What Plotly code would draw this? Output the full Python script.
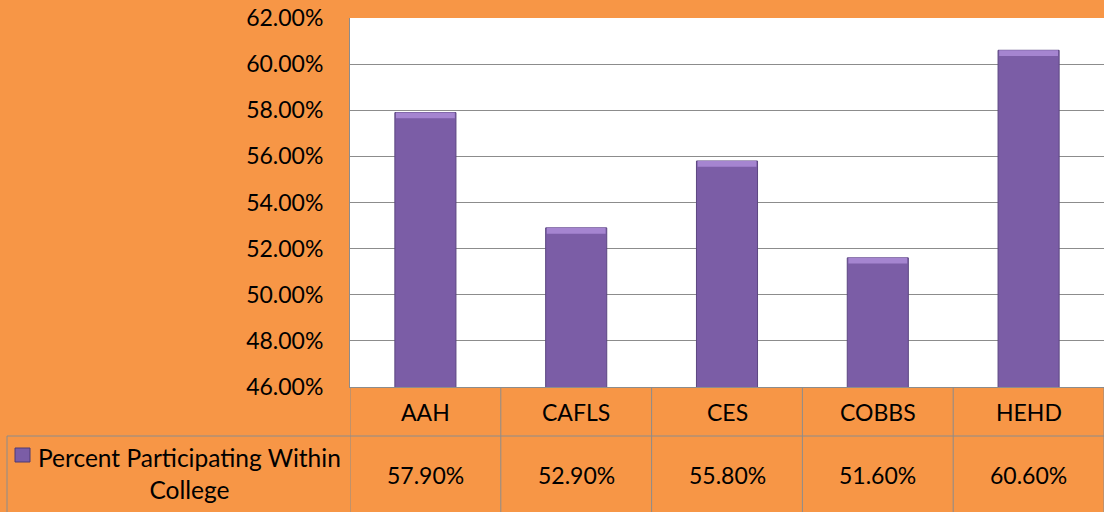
import plotly.graph_objects as go

categories = ["AAH", "CAFLS", "CES", "COBBS", "HEHD"]
values = [0.579, 0.529, 0.558, 0.516, 0.606]
value_labels = ["57.90%", "52.90%", "55.80%", "51.60%", "60.60%"]
series_name = "Percent Participating Within<br>College"
y_ticks = [0.46, 0.48, 0.50, 0.52, 0.54, 0.56, 0.58, 0.60, 0.62]

ORANGE = "#F79646"
PURPLE = "#7B5DA6"
BEVEL = "#A585D0"
GRID = "#8C8C8C"
FONT = "Lato, Carlito, 'Open Sans', sans-serif"

W, H = 1104, 512
L, R, T, B = 350, 0, 18, 125
pw, ph = W - L - R, H - T - B


def px_x(p):
    return (p - L) / pw


def px_y(p):
    return (H - B - p) / ph


bevel_h = 0.0025

fig = go.Figure()
fig.add_trace(go.Bar(
    x=categories, y=values, width=0.405,
    marker=dict(color=PURPLE, line=dict(color="#5B4680", width=1)),
    name="Percent Participating Within College",
    showlegend=False, hoverinfo="y",
))
fig.add_trace(go.Bar(
    x=categories, y=[bevel_h] * len(values),
    base=[v - bevel_h for v in values], width=0.39,
    marker=dict(color=BEVEL, line=dict(width=0)),
    showlegend=False, hoverinfo="skip",
))

fig.update_layout(
    width=W, height=H,
    margin=dict(l=L, r=R, t=T, b=B),
    paper_bgcolor=ORANGE, plot_bgcolor="white",
    font=dict(family=FONT, color="black"),
    barmode="overlay",
    xaxis=dict(showticklabels=False, showgrid=False, showline=True,
               linecolor=GRID, linewidth=1, ticks="", range=[-0.5, 4.5]),
    yaxis=dict(range=[0.46, 0.62], tickvals=y_ticks, tickformat=".2%",
               showgrid=True, gridcolor=GRID, gridwidth=1, showline=True,
               linecolor=GRID, linewidth=1, ticks="",
               tickfont=dict(size=23, family=FONT), ticklabelstandoff=21,
               zeroline=False),
)

shapes = []
for i in range(6):
    shapes.append(dict(type="line", xref="x", yref="paper",
                       x0=i - 0.5, x1=i - 0.5, y0=px_y(H), y1=0,
                       line=dict(color=GRID, width=1)))
shapes.append(dict(type="line", xref="paper", yref="paper",
                   x0=px_x(7), x1=1, y0=px_y(436), y1=px_y(436),
                   line=dict(color=GRID, width=1)))
shapes.append(dict(type="line", xref="paper", yref="paper",
                   x0=px_x(7), x1=px_x(7), y0=px_y(436), y1=px_y(H),
                   line=dict(color=GRID, width=1)))
shapes.append(dict(type="rect", xref="paper", yref="paper",
                   x0=px_x(15), x1=px_x(30), y0=px_y(462), y1=px_y(448),
                   fillcolor=PURPLE, line=dict(color="#4F3A73", width=1)))
fig.update_layout(shapes=shapes)

annotations = []
for c in categories:
    annotations.append(dict(x=c, y=px_y(412), xref="x", yref="paper",
                            xanchor="center", yanchor="middle",
                            text=c, showarrow=False,
                            font=dict(size=23, family=FONT)))
for c, lab in zip(categories, value_labels):
    annotations.append(dict(x=c, y=px_y(475), xref="x", yref="paper",
                            xanchor="center", yanchor="middle",
                            text=lab, showarrow=False,
                            font=dict(size=23, family=FONT)))
annotations.append(dict(x=px_x(189), y=px_y(473), xref="paper", yref="paper",
                        xanchor="center", yanchor="middle",
                        text=series_name, showarrow=False, align="center",
                        font=dict(size=24.5, family=FONT)))
fig.update_layout(annotations=annotations)

fig.write_html("out.html", config={"displayModeBar": False},
               post_script="document.body.style.margin='0';")
